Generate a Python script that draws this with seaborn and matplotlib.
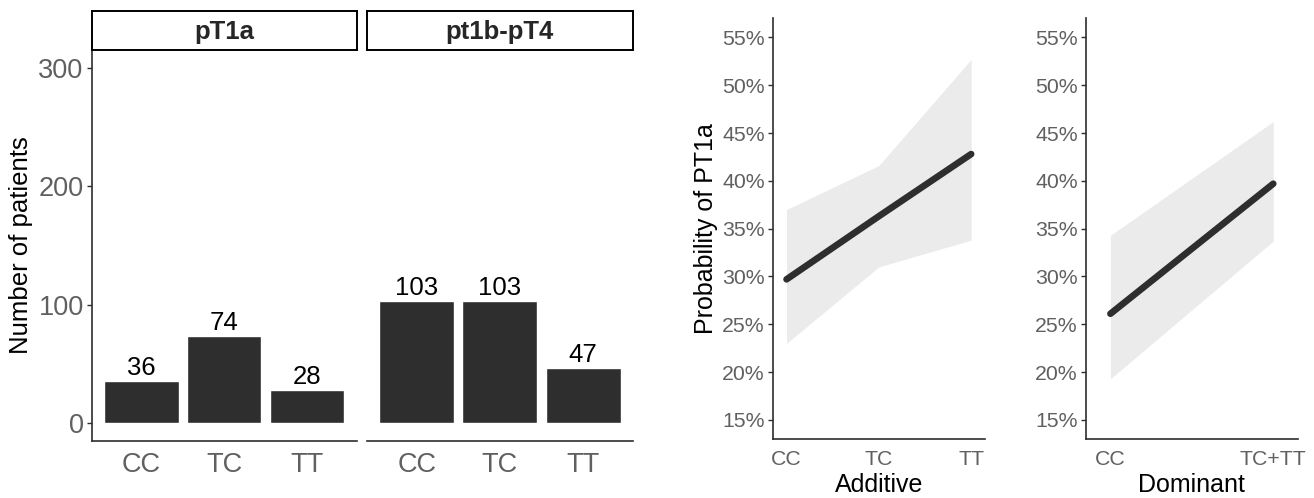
import matplotlib
matplotlib.use("Agg")
import matplotlib.pyplot as plt
import numpy as np
import pandas as pd
import seaborn as sns
from matplotlib.ticker import PercentFormatter

# bar chart data (patients per genotype, by stage)
genotypes = ["CC", "TC", "TT"]
stages = ["pT1a", "pt1b-pT4"]
counts_pt1a = [36, 74, 28]
counts_pt1b = [103, 103, 47]

# predicted probability of pT1a (%), with confidence band
additive_levels = ["CC", "TC", "TT"]
additive_est = [29.7, 36.3, 42.8]
additive_lo = [23.0, 31.0, 33.8]
additive_hi = [37.0, 41.6, 52.7]

dominant_levels = ["CC", "TC+TT"]
dominant_est = [26.1, 39.7]
dominant_lo = [19.3, 33.7]
dominant_hi = [34.3, 46.2]

sns.set_theme(style="white")
plt.rcParams["font.family"] = ["Liberation Sans", "DejaVu Sans"]

W, H = 1314, 498
TICK_GREY = "#606060"
INK = "#2e2e2e"
BAND = "#ebebeb"


def frac(x0, y0, x1, y1):
    """Pixel box (top-left origin) -> figure fraction rect."""
    return [x0 / W, 1 - y1 / H, (x1 - x0) / W, (y1 - y0) / H]


def style_axis(ax, left=True):
    for s in ["top", "right"]:
        ax.spines[s].set_visible(False)
    ax.spines["left"].set_visible(left)
    for s in ["left", "bottom"]:
        ax.spines[s].set_color(INK)
        ax.spines[s].set_linewidth(1.2)
    ax.tick_params(axis="both", length=3.8, width=1.0, color=INK, colors=TICK_GREY, pad=2)
    ax.tick_params(axis="y", left=left, labelleft=left)
    ax.grid(False)


fig = plt.figure(figsize=(W / 100, H / 100), dpi=100)

# ---------------------------------------------------------------------------
# Faceted bar chart
# ---------------------------------------------------------------------------
bars = pd.DataFrame({
    "stage": np.repeat(stages, len(genotypes)),
    "genotype": genotypes * len(stages),
    "n": counts_pt1a + counts_pt1b,
})

boxes = [(91.7, 356.7), (366.7, 633.0)]
for i, (stage, (x0, x1)) in enumerate(zip(stages, boxes)):
    ax = fig.add_axes(frac(x0, 50, x1, 441))
    sub = bars[bars["stage"] == stage]
    sns.barplot(data=sub, x="genotype", y="n", color=INK, saturation=1,
                width=0.9, ax=ax, errorbar=None)
    ax.bar_label(ax.containers[0], fontsize=18.5, color="black", padding=0.5)
    ax.set_xlim(-0.6, 2.6)
    ax.set_ylim(-15, 315)
    ax.set_yticks([0, 100, 200, 300])
    ax.set_xlabel("")
    ax.set_ylabel("Number of patients" if i == 0 else "", fontsize=18.5, color="black", labelpad=4)
    style_axis(ax, left=(i == 0))
    ax.tick_params(axis="both", labelsize=19.5)
    ax.tick_params(axis="x", pad=4)

    strip = fig.add_axes(frac(x0, 10.7, x1, 50))
    strip.set_xticks([])
    strip.set_yticks([])
    strip.set_facecolor("white")
    for s in strip.spines.values():
        s.set_color("black")
        s.set_linewidth(1.4)
    strip.text(0.5, 0.47, stage, ha="center", va="center", fontsize=18.5,
               fontweight="bold", transform=strip.transAxes)

# ---------------------------------------------------------------------------
# Probability panels
# ---------------------------------------------------------------------------
panels = [
    (additive_levels, additive_est, additive_lo, additive_hi, "Additive", (772.7, 985.0)),
    (dominant_levels, dominant_est, dominant_lo, dominant_hi, "Dominant", (1086.0, 1297.7)),
]
for j, (levels, est, lo, hi, name, (x0, x1)) in enumerate(panels):
    ax = fig.add_axes(frac(x0, 18.3, x1, 439))
    pos = np.arange(1, len(levels) + 1)
    ax.fill_between(pos, lo, hi, color=BAND, linewidth=0)
    sns.lineplot(x=pos, y=est, color=INK, linewidth=4.8, ax=ax)
    ax.set_xticks(pos)
    ax.set_xticklabels(levels)
    ax.set_xlim(pos[0] - 0.15, pos[-1] + 0.15)
    ax.set_ylim(13, 57)
    ax.set_yticks(range(15, 60, 5))
    ax.yaxis.set_major_formatter(PercentFormatter(decimals=0))
    ax.set_xlabel(name, fontsize=18, color="black", labelpad=3)
    ax.set_ylabel("Probability of PT1a" if j == 0 else "", fontsize=18, color="black", labelpad=3)
    style_axis(ax)
    ax.tick_params(axis="both", labelsize=15.3)
    ax.tick_params(axis="x", pad=4)

fig.savefig("out.png", dpi=100)
